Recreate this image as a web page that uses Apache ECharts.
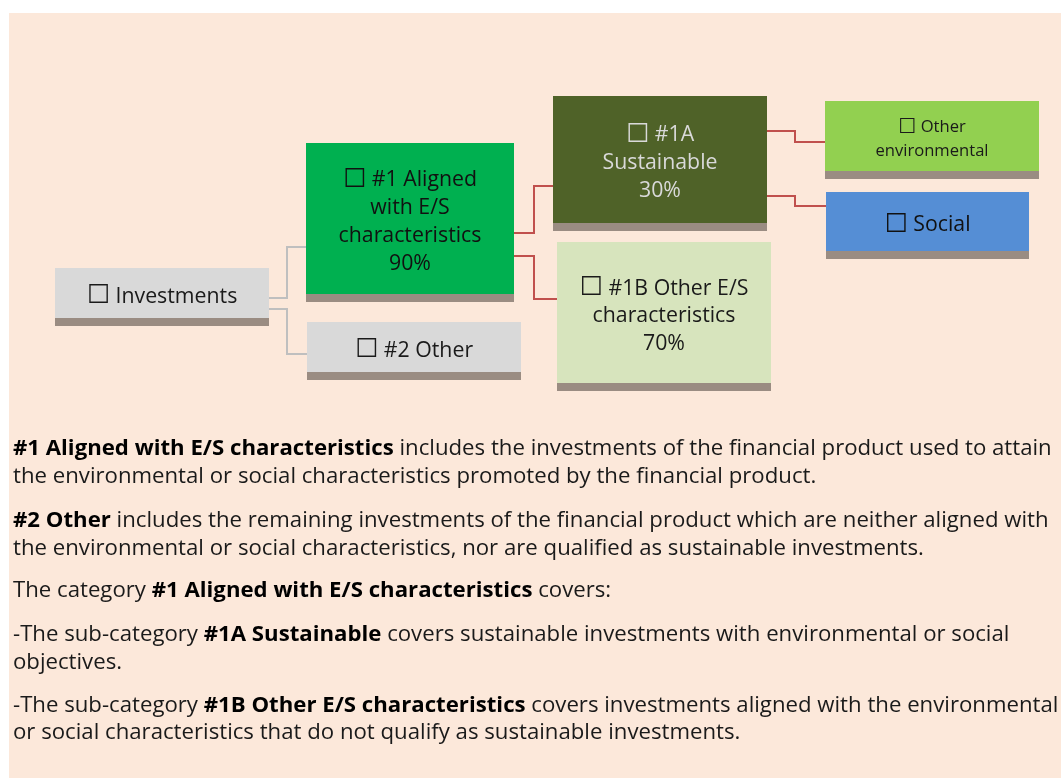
<!DOCTYPE html>
<html>
<head>
<meta charset="utf-8">
<script src="https://cdn.jsdelivr.net/npm/echarts@6/dist/echarts.min.js"></script>
<style>
html,body{margin:0;padding:0;background:#fff;}
#chart{width:1061px;height:778px;}
</style>
</head>
<body>
<div id="chart"></div>
<script>
// ---- data ----
const nodeTitles = ['Investments', '#1 Aligned\nwith E/S\ncharacteristics', '#2 Other', '#1A\nSustainable', '#1B Other E/S\ncharacteristics', 'Other\nenvironmental', 'Social'];
const nodeShares = [null, 90, null, 30, 70, null, null];
const edgeParents = [0, 0, 1, 1, 3, 3];
const edgeChildren = [1, 2, 3, 4, 5, 6];
const noteLines = [
  [['b', '#1 Aligned with E/S characteristics'], ['r', ' includes the investments of the financial product used to attain']],
  [['r', 'the environmental or social characteristics promoted by the financial product.']],
  [['b', '#2 Other'], ['r', ' includes the remaining investments of the financial product which are neither aligned with']],
  [['r', 'the environmental or social characteristics, nor are qualified as sustainable investments.']],
  [['r', 'The category '], ['b', '#1 Aligned with E/S characteristics'], ['r', ' covers:']],
  [['r', '-The sub-category '], ['b', '#1A Sustainable'], ['r', ' covers sustainable investments with environmental or social']],
  [['r', 'objectives.']],
  [['r', '-The sub-category '], ['b', '#1B Other E/S characteristics'], ['r', ' covers investments aligned with the environmental']],
  [['r', 'or social characteristics that do not qualify as sustainable investments.']]
];

// ---- layout & style (not data) ----
const nodeBoxes = [
  [55, 268, 269, 318],
  [306, 143, 514, 294],
  [307, 322, 521, 372],
  [553, 96, 767, 223],
  [557, 242, 771, 383],
  [825, 101, 1039, 171],
  [826, 192, 1029, 251]
];
const nodeFill = ['#D9D9D9', '#00B050', '#D9D9D9', '#4F6228', '#D7E4BD', '#92D050', '#558ED5'];
const nodeTextColor = ['#1a1a1a', '#111', '#1a1a1a', '#D9D9D9', '#1a1a1a', '#1a1a1a', '#111'];
const nodeFontSize = [21.3, 21.3, 21.3, 21.3, 21.3, 16.6, 21.3];
const nodeLineHeight = [28, 28, 28, 28, 27.5, 24, 28];
const edgeAnchor = [ // [parentY, midX, childY]
  [298, 287, 247], [309, 287, 354],
  [233, 534, 186], [256, 534, 299],
  [131, 795, 142], [196, 795, 206]
];
const edgeColor = ['#BFBFBF', '#BFBFBF', '#C0504D', '#C0504D', '#C0504D', '#C0504D'];
const noteY = [448.5, 476.5, 520.5, 548.5, 590.5, 634.5, 662.5, 705.5, 732.5];
const FONT = '"Open Sans", "Noto Sans", "DejaVu Sans", sans-serif';
const BOXFONT = '"DejaVu Sans", sans-serif';
const NOTE_FS = 22.2;
const SHADOW_H = 8;
const SHADOW_COLOR = '#9A8C82';

const chart = echarts.init(document.getElementById('chart'), null, {renderer: 'canvas'});

const boxData = nodeTitles.map((t, i) => [i].concat(nodeBoxes[i]));
const edgeData = edgeParents.map((p, k) => [k, p, edgeChildren[k]]);

function nodeLabel(i) {
  const lines = nodeTitles[i].split('\n');
  if (nodeShares[i] != null) lines.push(nodeShares[i] + '%');
  return lines.map((l, j) => (j === 0 ? '{s|☐}{t| ' + l + '}' : '{t|' + l + '}')).join('\n');
}

const noteGraphics = noteLines.map((segs, k) => ({
  type: 'text',
  x: 13,
  y: noteY[k],
  silent: true,
  style: {
    text: segs.map(s => '{' + s[0] + '|' + s[1] + '}').join(''),
    verticalAlign: 'middle',
    rich: {
      b: {fontFamily: FONT, fontSize: NOTE_FS, fontWeight: 'bold', fill: '#000'},
      r: {fontFamily: FONT, fontSize: NOTE_FS, fontWeight: 'normal', fill: '#1a1a1a'}
    }
  }
}));

chart.setOption({
  animation: false,
  backgroundColor: '#ffffff',
  grid: {left: 0, right: 0, top: 0, bottom: 0},
  xAxis: {type: 'value', min: 0, max: 1061, show: false},
  yAxis: {type: 'value', min: 0, max: 778, inverse: true, show: false},
  graphic: [{
    type: 'rect', z: -10, silent: true,
    shape: {x: 9, y: 13, width: 1052, height: 765},
    style: {fill: '#FCE8DA'}
  }].concat(noteGraphics),
  series: [
    {
      type: 'custom',
      coordinateSystem: 'cartesian2d',
      data: edgeData,
      silent: true,
      renderItem: function (params, api) {
        const k = api.value(0), p = api.value(1), c = api.value(2);
        const a = edgeAnchor[k];
        const pts = [
          api.coord([nodeBoxes[p][2], a[0]]),
          api.coord([a[1], a[0]]),
          api.coord([a[1], a[2]]),
          api.coord([nodeBoxes[c][0], a[2]])
        ];
        return {type: 'polyline', shape: {points: pts}, style: {stroke: edgeColor[k], lineWidth: 2, fill: null}};
      }
    },
    {
      type: 'custom',
      coordinateSystem: 'cartesian2d',
      data: boxData,
      silent: true,
      renderItem: function (params, api) {
        const i = api.value(0);
        const p0 = api.coord([api.value(1), api.value(2)]);
        const p1 = api.coord([api.value(3), api.value(4)]);
        const w = p1[0] - p0[0], h = p1[1] - p0[1];
        const fs = nodeFontSize[i], lh = nodeLineHeight[i], col = nodeTextColor[i];
        return {
          type: 'group',
          children: [
            {type: 'rect', shape: {x: p0[0], y: p1[1], width: w, height: SHADOW_H}, style: {fill: SHADOW_COLOR}},
            {type: 'rect', shape: {x: p0[0], y: p0[1], width: w, height: h}, style: {fill: nodeFill[i]}},
            {type: 'text', style: {
              text: nodeLabel(i), x: p0[0] + w / 2, y: p0[1] + h / 2 + 3.5,
              align: 'center', verticalAlign: 'middle',
              fontFamily: FONT, fontSize: fs, lineHeight: lh, fill: col,
              rich: {
                s: {fontFamily: BOXFONT, fontSize: fs * 1.22, lineHeight: lh, fill: col, align: 'center'},
                t: {fontFamily: FONT, fontSize: fs, lineHeight: lh, fill: col, align: 'center'}
              }
            }}
          ]
        };
      }
    }
  ]
});
</script>
</body>
</html>
